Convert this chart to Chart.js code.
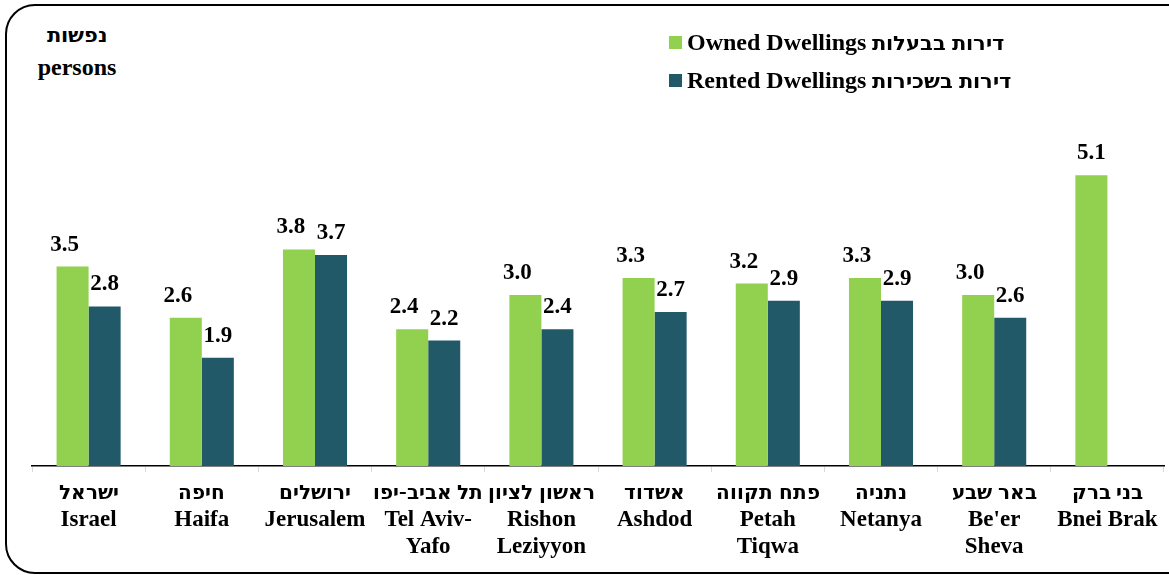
<!DOCTYPE html>
<html>
<head>
<meta charset="utf-8">
<script src="https://cdn.jsdelivr.net/npm/chart.js@4"></script>
<style>
  @font-face {
    font-family: 'HebBold';
    src: local('DejaVu Sans Bold'), local('DejaVuSans-Bold');
    font-weight: bold;
    unicode-range: U+0590-05FF;
    size-adjust: 86%;
  }
  html, body { margin: 0; padding: 0; background: #fff; overflow: hidden; }
  #wrap { position: relative; width: 1169px; height: 575px; }
  #frame {
    position: absolute; left: 5px; top: 4px; width: 1200px; height: 570px;
    border: 2px solid #000; border-radius: 30px; box-sizing: border-box;
  }
  canvas { position: absolute; left: 0; top: 0; }
  .txt {
    position: absolute; font-family: "HebBold", "Liberation Serif", "DejaVu Sans", sans-serif;
    font-weight: bold; color: #000; white-space: nowrap; line-height: 24px; font-size: 24px;
  }
  .sw { position: absolute; width: 13px; height: 13px; }
</style>
</head>
<body>
<div id="wrap">
  <div id="frame"></div>
  <div class="txt" style="left:34px; top:22px; width:86px; text-align:center;">נפשות<br><span style="display:inline-block; margin-top:9px;">persons</span></div>
  <canvas id="chart" width="1169" height="575"></canvas>
  <div class="sw" style="left:669px; top:36px; background:#92D050;"></div>
  <div class="txt" style="left:687px; top:30px;">Owned Dwellings דירות בבעלות</div>
  <div class="sw" style="left:669px; top:74px; background:#215968;"></div>
  <div class="txt" style="left:687px; top:68px;">Rented Dwellings דירות בשכירות</div>
</div>
<script>
const cities = [
    ['ישראל', 'Israel'],
    ['חיפה', 'Haifa'],
    ['ירושלים', 'Jerusalem'],
    ['תל אביב-יפו', 'Tel Aviv-', 'Yafo'],
    ['ראשון לציון', 'Rishon', 'Leziyyon'],
    ['אשדוד', 'Ashdod'],
    ['פתח תקווה', 'Petah', 'Tiqwa'],
    ['נתניה', 'Netanya'],
    ['באר שבע', 'Be\'er', 'Sheva'],
    ['בני ברק', 'Bnei Brak']
];
const ownedDwellings = [3.5, 2.6, 3.8, 2.4, 3.0, 3.3, 3.2, 3.3, 3.0, 5.1];
const rentedDwellings = [2.8, 1.9, 3.7, 2.2, 2.4, 2.7, 2.9, 2.9, 2.6, null];

const serif = "'Liberation Serif', 'DejaVu Sans', sans-serif";
const labelFont = "HebBold, 'Liberation Serif', 'DejaVu Sans', sans-serif";

// value labels above the bars
const barLabels = {
    id: 'barLabels',
    afterDatasetsDraw(chart) {
        const ctx = chart.ctx;
        ctx.save();
        ctx.font = 'bold 23px ' + serif;
        ctx.fillStyle = '#000';
        ctx.textAlign = 'center';
        ctx.textBaseline = 'alphabetic';
        chart.data.datasets.forEach((ds, i) => {
            const meta = chart.getDatasetMeta(i);
            meta.data.forEach((bar, j) => {
                const v = ds.data[j];
                if (v === null) return;
                let shift = 0;
                if (i === 0 && rentedDwellings[j] !== null) shift = -8;
                ctx.fillText(v.toFixed(1), bar.x + shift, bar.y - 16);
            });
        });
        ctx.restore();
    }
};

function drawChart() {
    new Chart(document.getElementById('chart'), {
        type: 'bar',
        data: {
            labels: cities,
            datasets: [
                {
                    label: 'Owned Dwellings דירות בבעלות',
                    data: ownedDwellings,
                    backgroundColor: '#92D050',
                    borderWidth: 0,
                    categoryPercentage: 0.566,
                    barPercentage: 1
                },
                {
                    label: 'Rented Dwellings דירות בשכירות',
                    data: rentedDwellings,
                    backgroundColor: '#215968',
                    borderWidth: 0,
                    categoryPercentage: 0.566,
                    barPercentage: 1
                }
            ]
        },
        options: {
            responsive: false,
            animation: false,
            layout: {
                padding: { left: 32, right: 5, top: 124, bottom: 6 }
            },
            plugins: {
                legend: { display: false },
                tooltip: { enabled: false }
            },
            scales: {
                x: {
                    offset: true,
                    grid: {
                        display: true,
                        drawOnChartArea: false,
                        drawTicks: true,
                        tickLength: 6,
                        color: '#d9d9d9',
                        offset: true
                    },
                    border: { display: true, color: '#000', width: 1.5 },
                    ticks: {
                        color: '#000',
                        padding: 8,
                        maxRotation: 0,
                        autoSkip: false,
                        font: { family: labelFont, size: 23, weight: 'bold', lineHeight: 27 / 23 }
                    }
                },
                y: {
                    display: false,
                    min: 0,
                    max: 6
                }
            }
        },
        plugins: [barLabels]
    });
}

document.fonts.load('bold 23px HebBold', 'אבג').then(drawChart, drawChart);
</script>
</body>
</html>
